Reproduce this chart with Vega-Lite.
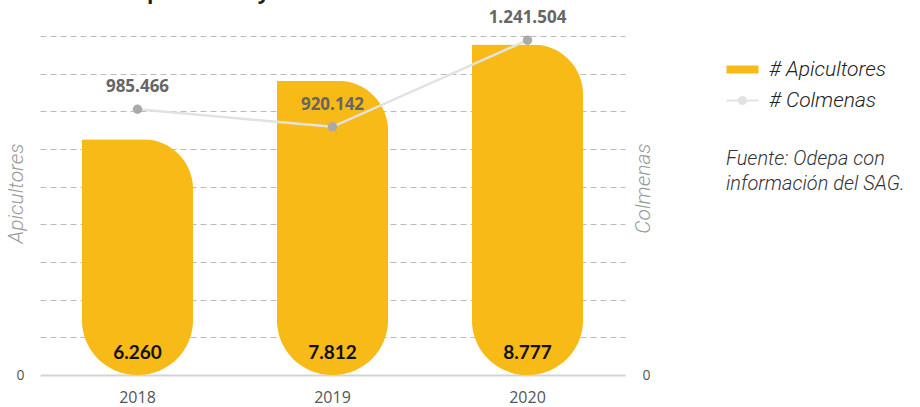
{
  "$schema": "https://vega.github.io/schema/vega-lite/v6.json",
  "width": 585,
  "height": 339,
  "autosize": {"type": "none"},
  "padding": {"left": 40, "top": 36, "right": 295, "bottom": 32},
  "title": {
    "text": "Evolución apicultores y colmenas 2018 - 2020",
    "anchor": "start",
    "frame": "group",
    "dx": -12,
    "dy": 23,
    "offset": 12,
    "baseline": "alphabetic",
    "font": "Open Sans",
    "fontSize": 21,
    "fontWeight": "bold",
    "color": "#222222"
  },
  "config": {
    "view": {"stroke": null},
    "locale": {"number": {"decimal": ",", "thousands": ".", "grouping": [3], "currency": ["$", ""]}}
  },
  "data": {
    "values": [
      {"year": "2018", "apicultores": 6260, "colmenas": 985466},
      {"year": "2019", "apicultores": 7812, "colmenas": 920142},
      {"year": "2020", "apicultores": 8777, "colmenas": 1241504}
    ]
  },
  "encoding": {
    "x": {
      "field": "year",
      "type": "nominal",
      "scale": {"paddingInner": 0.43, "paddingOuter": 0.215},
      "axis": {
        "title": null,
        "labelAngle": 0,
        "labelFont": "Open Sans",
        "labelFontSize": 16,
        "labelColor": "#555555",
        "labelPadding": 14,
        "ticks": false,
        "domainColor": "#D3D3D3",
        "domainWidth": 2
      }
    }
  },
  "layer": [
    {
      "layer": [
        {
          "mark": {
            "type": "bar",
            "cornerRadiusTopRight": 50,
            "cornerRadiusBottomLeft": 55,
            "cornerRadiusBottomRight": 55
          },
          "encoding": {
            "y": {
              "field": "apicultores",
              "type": "quantitative",
              "scale": {"domain": [0, 9000], "nice": false},
              "axis": {
                "title": "Apicultores",
                "titleFont": "Roboto",
                "titleFontStyle": "italic",
                "titleFontWeight": 300,
                "titleFontSize": 21,
                "titleColor": "#9A9A9A",
                "titleX": -24,
                "titleY": 157,
                "titleAngle": -90,
                "titleAlign": "center",
                "titleBaseline": "middle",
                "values": [0, 1000, 2000, 3000, 4000, 5000, 6000, 7000, 8000, 9000],
                "labelExpr": "datum.value === 0 ? '0' : ''",
                "labelOverlap": false,
                "labelFont": "Open Sans",
                "labelFontSize": 14,
                "labelColor": "#555555",
                "labelPadding": 16,
                "ticks": false,
                "domain": false,
                "grid": true,
                "gridDash": [6, 4],
                "gridColor": "#BBBBBB",
                "gridOpacity": {"condition": {"test": "datum.value === 0", "value": 0}, "value": 1}
              }
            },
            "color": {
              "datum": "# Apicultores",
              "scale": {"domain": ["# Apicultores", "# Colmenas"], "range": ["#F7BA16", "#E2E2E2"]},
              "legend": {
                "orient": "none",
                "legendX": 686,
                "legendY": 23,
                "title": ["Fuente: Odepa con", "información del SAG."],
                "titleOrient": "bottom",
                "titleAnchor": "start",
                "titleAlign": "left",
                "titlePadding": 38,
                "titleFont": "Roboto",
                "titleFontStyle": "italic",
                "titleFontWeight": 300,
                "titleFontSize": 20,
                "titleColor": "#333333",
                "titleLimit": 500,
                "titleLineHeight": 25,
                "labelFont": "Roboto",
                "labelFontStyle": "italic",
                "labelFontWeight": 300,
                "labelFontSize": 21,
                "labelColor": "#222222",
                "labelOffset": 22,
                "labelLimit": 300,
                "rowPadding": 9,
                "symbolSize": 400,
                "encode": {
                  "symbols": {
                    "update": {
                      "shape": {"signal": "datum.value === '# Apicultores' ? 'M-1,-0.4H2.2V0.4H-1Z' : 'M-1,0H2.2M0.25,0A0.35,0.35 0 1,1 0.95,0A0.35,0.35 0 1,1 0.25,0Z'"},
                      "fill": {"signal": "datum.value === '# Apicultores' ? '#F7BA16' : '#AAAAAA'"},
                      "stroke": {"signal": "datum.value === '# Apicultores' ? '#F7BA16' : '#D6D6D6'"},
                      "strokeWidth": {"signal": "datum.value === '# Apicultores' ? 0 : 2"},
                      "size": {"value": 400},
                      "opacity": {"value": 1},
                      "fillOpacity": {"value": 1}
                    }
                  }
                }
              }
            }
          }
        },
        {
          "mark": {
            "type": "text",
            "baseline": "bottom",
            "dy": -12,
            "font": "Lato",
            "fontSize": 19,
            "fontWeight": "bold",
            "color": "#111111"
          },
          "encoding": {
            "y": {
              "datum": 0,
              "type": "quantitative",
              "axis": {
                "title": "Apicultores",
                "titleFont": "Roboto",
                "titleFontStyle": "italic",
                "titleFontWeight": 300,
                "titleFontSize": 21,
                "titleColor": "#9A9A9A",
                "titleX": -24,
                "titleY": 157,
                "titleAngle": -90,
                "titleAlign": "center",
                "titleBaseline": "middle",
                "values": [0, 1000, 2000, 3000, 4000, 5000, 6000, 7000, 8000, 9000],
                "labelExpr": "datum.value === 0 ? '0' : ''",
                "labelOverlap": false,
                "labelFont": "Open Sans",
                "labelFontSize": 14,
                "labelColor": "#555555",
                "labelPadding": 16,
                "ticks": false,
                "domain": false,
                "grid": true,
                "gridDash": [6, 4],
                "gridColor": "#BBBBBB",
                "gridOpacity": {"condition": {"test": "datum.value === 0", "value": 0}, "value": 1}
              }
            },
            "text": {"field": "apicultores", "type": "quantitative", "format": ",d"}
          }
        }
      ]
    },
    {
      "layer": [
        {
          "mark": {"type": "line", "strokeWidth": 2.5},
          "encoding": {
            "y": {
              "field": "colmenas",
              "type": "quantitative",
              "scale": {"domain": [0, 1257000], "nice": false},
              "axis": {
                "orient": "right",
                "title": "Colmenas",
                "titleFont": "Roboto",
                "titleFontStyle": "italic",
                "titleFontWeight": 300,
                "titleFontSize": 21,
                "titleColor": "#9A9A9A",
                "titleX": 18,
                "titleY": 152,
                "titleAngle": 270,
                "titleAlign": "center",
                "titleBaseline": "middle",
                "values": [0],
                "labelFont": "Open Sans",
                "labelFontSize": 14,
                "labelColor": "#555555",
                "labelPadding": 17,
                "ticks": false,
                "domain": false,
                "grid": false
              }
            },
            "color": {"datum": "# Colmenas"}
          }
        },
        {
          "mark": {"type": "point", "filled": true, "size": 90, "color": "#AAAAAA", "opacity": 1},
          "encoding": {
            "y": {"field": "colmenas", "type": "quantitative"}
          }
        },
        {
          "mark": {
            "type": "text",
            "baseline": "middle",
            "dy": -22,
            "font": "Open Sans",
            "fontSize": 17,
            "fontWeight": "bold",
            "color": "#666666"
          },
          "encoding": {
            "y": {"field": "colmenas", "type": "quantitative"},
            "text": {"field": "colmenas", "type": "quantitative", "format": ",d"}
          }
        }
      ]
    }
  ],
  "resolve": {"scale": {"y": "independent"}}
}
